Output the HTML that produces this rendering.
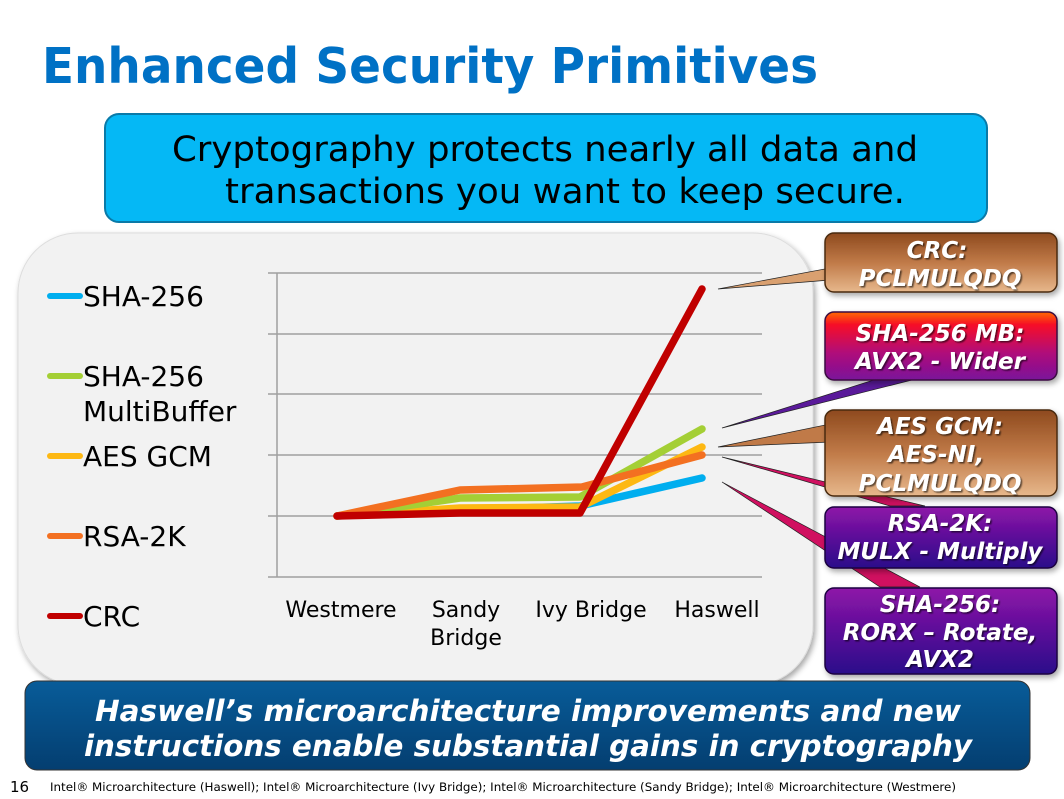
<!DOCTYPE html>
<html><head><meta charset="utf-8"><style>
html,body{margin:0;padding:0;background:#fff;}
svg{display:block;}
text{font-family:"DejaVu Sans","Liberation Sans",sans-serif;}
</style></head><body>
<svg width="1064" height="799" viewBox="0 0 1064 799" xmlns="http://www.w3.org/2000/svg">
<defs>
<linearGradient id="brown" x1="0" y1="0" x2="0" y2="1"><stop offset="0" stop-color="#8e4a1e"/><stop offset="0.5" stop-color="#c07a48"/><stop offset="1" stop-color="#e7b88c"/></linearGradient>
<linearGradient id="redp" x1="0" y1="0" x2="0" y2="1"><stop offset="0" stop-color="#ff6a00"/><stop offset="0.2" stop-color="#f5082a"/><stop offset="0.6" stop-color="#b0107a"/><stop offset="1" stop-color="#7a129a"/></linearGradient>
<linearGradient id="purp" x1="0" y1="0" x2="0" y2="1"><stop offset="0" stop-color="#8e14a8"/><stop offset="1" stop-color="#2a0a8a"/></linearGradient>
<linearGradient id="blue" x1="0" y1="0" x2="0" y2="1"><stop offset="0" stop-color="#085c99"/><stop offset="1" stop-color="#043e70"/></linearGradient>
<filter id="sh" x="-5%" y="-5%" width="115%" height="115%"><feDropShadow dx="2" dy="3" stdDeviation="3" flood-color="#000" flood-opacity="0.35"/></filter>
<filter id="ts"><feDropShadow dx="1.5" dy="1.5" stdDeviation="0.8" flood-color="#000" flood-opacity="0.6"/></filter>
</defs>

<text x="42" y="83" font-size="49" font-weight="bold" fill="#0071c5" textLength="776" lengthAdjust="spacingAndGlyphs">Enhanced Security Primitives</text>

<rect x="105" y="114" width="882" height="108" rx="14" fill="#05b8f5" stroke="#0a7aa8" stroke-width="2"/>
<text x="545" y="161" font-size="35" fill="#000" text-anchor="middle" textLength="746" lengthAdjust="spacingAndGlyphs">Cryptography protects nearly all data and</text>
<text x="565" y="203" font-size="35" fill="#000" text-anchor="middle" textLength="680" lengthAdjust="spacingAndGlyphs">transactions you want to keep secure.</text>

<rect x="18" y="233" width="795" height="452" rx="60" fill="#f2f2f2" stroke="#ddd" stroke-width="1" filter="url(#sh)"/>

<g stroke="#a0a0a0" stroke-width="1.5">
<line x1="268" y1="273" x2="762" y2="273"/><line x1="268" y1="334" x2="762" y2="334"/>
<line x1="268" y1="394" x2="762" y2="394"/><line x1="268" y1="455" x2="762" y2="455"/>
<line x1="268" y1="516" x2="762" y2="516"/><line x1="268" y1="577" x2="762" y2="577"/>
<line x1="277" y1="273" x2="277" y2="577"/>
</g>

<g fill="none" stroke-width="7.5" stroke-linecap="round" stroke-linejoin="round">
<polyline stroke="#00aeef" points="337,516 460,510 580,506 702,478"/>
<polyline stroke="#fdb813" points="337,516 460,508 580,507 702,447"/>
<polyline stroke="#a4cf35" points="337,516 460,498 580,497 702,429"/>
<polyline stroke="#f37021" points="337,516 460,490 582,487 702,455"/>
<polyline stroke="#c00000" points="337,516 460,513 580,513 702,289"/>
</g>

<g font-size="22" fill="#000">
<text x="341" y="617" text-anchor="middle">Westmere</text>
<text x="466" y="617" text-anchor="middle">Sandy</text>
<text x="466" y="645" text-anchor="middle">Bridge</text>
<text x="591" y="617" text-anchor="middle">Ivy Bridge</text>
<text x="717" y="617" text-anchor="middle">Haswell</text>
</g>

<g stroke-width="6" stroke-linecap="round">
<line x1="50" y1="296" x2="80" y2="296" stroke="#00aeef"/>
<line x1="50" y1="376" x2="80" y2="376" stroke="#a4cf35"/>
<line x1="50" y1="456" x2="80" y2="456" stroke="#fdb813"/>
<line x1="50" y1="536" x2="80" y2="536" stroke="#f37021"/>
<line x1="50" y1="616" x2="80" y2="616" stroke="#c00000"/>
</g>
<g font-size="28" fill="#000">
<text x="83" y="306">SHA-256</text>
<text x="83" y="386">SHA-256</text>
<text x="83" y="421">MultiBuffer</text>
<text x="83" y="466">AES GCM</text>
<text x="83" y="546">RSA-2K</text>
<text x="83" y="626">CRC</text>
</g>

<polygon points="718,289 830,268 830,280" fill="#d9a070" stroke="#222" stroke-width="0.7"/>
<polygon points="722,428 880,378 920,378" fill="#5a1a9a" stroke="#222" stroke-width="0.7"/>
<polygon points="718,447 830,424 830,442" fill="#c07a48" stroke="#222" stroke-width="0.7"/>
<polygon points="722,457 890,506 925,506" fill="#d01060" stroke="#222" stroke-width="0.7"/>
<polygon points="722,482 880,587 920,587" fill="#d01060" stroke="#222" stroke-width="0.7"/>

<g filter="url(#sh)">
<rect x="825" y="233" width="232" height="59" rx="9" fill="url(#brown)" stroke="#4a2a10" stroke-width="1.5"/>
<rect x="825" y="312" width="232" height="68" rx="9" fill="url(#redp)" stroke="#3a0a40" stroke-width="1.5"/>
<rect x="825" y="410" width="232" height="86" rx="9" fill="url(#brown)" stroke="#4a2a10" stroke-width="1.5"/>
<rect x="825" y="507" width="232" height="61" rx="9" fill="url(#purp)" stroke="#1a0540" stroke-width="1.5"/>
<rect x="825" y="588" width="232" height="86" rx="9" fill="url(#purp)" stroke="#1a0540" stroke-width="1.5"/>
</g>
<g font-size="23" font-weight="bold" font-style="italic" fill="#fff" text-anchor="middle" filter="url(#ts)">
<text x="937" y="258">CRC:</text>
<text x="940" y="286">PCLMULQDQ</text>
<text x="940" y="341">SHA-256 MB:</text>
<text x="940" y="369">AVX2 - Wider</text>
<text x="940" y="434">AES GCM:</text>
<text x="936" y="462">AES-NI,</text>
<text x="940" y="491">PCLMULQDQ</text>
<text x="940" y="531">RSA-2K:</text>
<text x="940" y="559">MULX - Multiply</text>
<text x="940" y="612">SHA-256:</text>
<text x="940" y="640">RORX – Rotate,</text>
<text x="940" y="667">AVX2</text>
</g>

<rect x="25" y="681" width="1005" height="89" rx="12" fill="url(#blue)" stroke="#333" stroke-width="1"/>
<g font-size="29" font-weight="bold" font-style="italic" fill="#fff" text-anchor="middle">
<text x="528" y="721" textLength="866" lengthAdjust="spacingAndGlyphs">Haswell’s microarchitecture improvements and new</text>
<text x="528" y="756" textLength="888" lengthAdjust="spacingAndGlyphs">instructions enable substantial gains in cryptography</text>
</g>

<text x="10" y="792" font-size="15" fill="#000">16</text>
<text x="50" y="791" font-size="11.5" fill="#000" textLength="906" lengthAdjust="spacingAndGlyphs">Intel® Microarchitecture (Haswell); Intel® Microarchitecture (Ivy Bridge); Intel® Microarchitecture (Sandy Bridge); Intel® Microarchitecture (Westmere)</text>
</svg>
</body></html>
